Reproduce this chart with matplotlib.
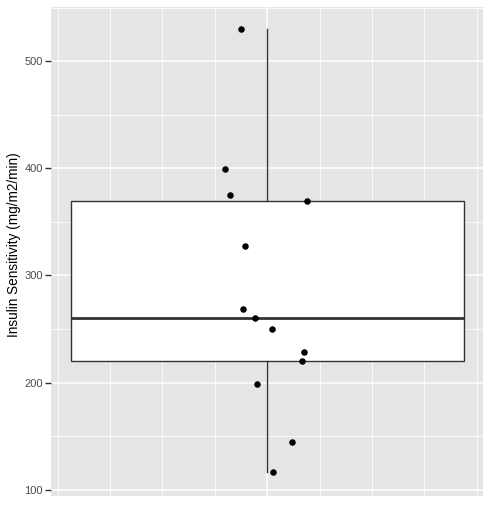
import matplotlib
matplotlib.use("Agg")
import matplotlib.pyplot as plt
from matplotlib.ticker import MultipleLocator
import numpy as np

# Data
values = [529.6, 399.2, 375.2, 369.0, 327.7, 268.9, 260.0, 250.2, 228.8, 220.0, 198.9, 144.3, 116.5]
jitter_x = [-0.0495, -0.080, -0.0705, 0.077, -0.0415, -0.046, -0.023, 0.0095, 0.070, 0.0667, -0.019, 0.047, 0.0115]
y_ticks = [100, 200, 300, 400, 500]
y_label = "Insulin Sensitivity (mg/m2/min)"

plt.rcParams['font.family'] = ['Liberation Sans', 'DejaVu Sans']

W, H = 491, 507
fig = plt.figure(figsize=(W / 100, H / 100), dpi=100)
ax = fig.add_axes([51 / W, (H - 495.7) / H, (483.3 - 51) / W, (495.7 - 7) / H])
ax.set_facecolor('#E5E5E5')
for s in ax.spines.values():
    s.set_visible(False)

ax.xaxis.set_major_locator(MultipleLocator(0.2))
ax.xaxis.set_minor_locator(MultipleLocator(0.1))
ax.yaxis.set_major_locator(MultipleLocator(100))
ax.yaxis.set_minor_locator(MultipleLocator(50))
ax.grid(which='major', color='white', linewidth=1.1)
ax.grid(which='minor', color='white', linewidth=0.55)
ax.set_axisbelow(True)

ax.boxplot([values], positions=[0], widths=0.75, showcaps=False, showfliers=False,
           patch_artist=True, whis=1.5,
           boxprops=dict(facecolor='white', edgecolor='#333333', linewidth=1.0),
           medianprops=dict(color='#333333', linewidth=2.0),
           whiskerprops=dict(color='#333333', linewidth=1.0), zorder=2)

ax.scatter(jitter_x, values, s=22, color='black', zorder=3, linewidths=0)

ax.set_xlim(-0.4125, 0.4125)
ax.set_ylim(94.4, 550.5)
ax.set_yticks(y_ticks)
ax.set_yticklabels([str(t) for t in y_ticks])
ax.tick_params(axis='x', which='both', bottom=False, labelbottom=False)
ax.tick_params(axis='y', which='major', length=4, width=1, color='#333333',
               labelsize=8, labelcolor='#4D4D4D', pad=2)
ax.tick_params(axis='y', which='minor', left=False)
ax.set_ylabel(y_label, fontsize=9.8, color='black')
ax.yaxis.set_label_coords(-30 / (483.3 - 51), 0.513)

fig.savefig('out.png', dpi=100)
